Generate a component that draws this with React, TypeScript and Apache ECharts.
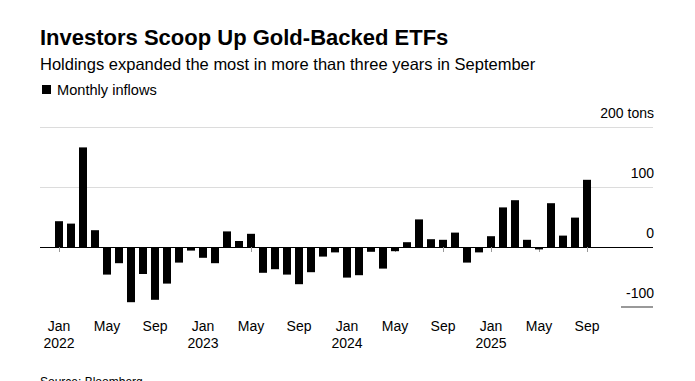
import React, { useEffect, useRef } from "react";
import * as echarts from "echarts";

const months: string[] = [
  "Jan 2022", "Feb 2022", "Mar 2022", "Apr 2022", "May 2022", "Jun 2022",
  "Jul 2022", "Aug 2022", "Sep 2022", "Oct 2022", "Nov 2022", "Dec 2022",
  "Jan 2023", "Feb 2023", "Mar 2023", "Apr 2023", "May 2023", "Jun 2023",
  "Jul 2023", "Aug 2023", "Sep 2023", "Oct 2023", "Nov 2023", "Dec 2023",
  "Jan 2024", "Feb 2024", "Mar 2024", "Apr 2024", "May 2024", "Jun 2024",
  "Jul 2024", "Aug 2024", "Sep 2024", "Oct 2024", "Nov 2024", "Dec 2024",
  "Jan 2025", "Feb 2025", "Mar 2025", "Apr 2025", "May 2025", "Jun 2025",
  "Jul 2025", "Aug 2025", "Sep 2025",
];

const inflows: number[] = [
  43, 39, 166, 28, -46, -27, -92, -45, -88, -61, -26, -6,
  -18, -27, 26, 10, 22, -43, -37, -46, -62, -42, -16, -9,
  -51, -47, -8, -36, -7, 8, 46, 13, 12, 24, -26, -9,
  18, 66, 78, 12, -4, 73, 19, 49, 112,
];

const yTicks = { min: -100, max: 200, interval: 100 };
const unitLabel = "tons";

const FONT = "'Liberation Sans', Arial, Helvetica, sans-serif";

export default function App() {
  const ref = useRef<HTMLDivElement>(null);

  useEffect(() => {
    if (!ref.current) return;
    const chart = echarts.init(ref.current, undefined, { renderer: "svg" });
    const showIdx = (i: number) => i % 4 === 0;
    chart.setOption({
      animation: false,
      backgroundColor: "#fff",
      textStyle: { fontFamily: FONT },
      grid: [
        { left: 40, right: 42, top: 127, bottom: 74 },
        { left: 53, right: 102, top: 127, bottom: 74 },
      ],
      xAxis: [
        { type: "value", gridIndex: 0, show: false, min: 0, max: 1 },
        {
          type: "category",
          gridIndex: 1,
          data: months,
          axisLine: { show: false },
          axisTick: {
            show: true,
            interval: (i: number) => showIdx(i),
            alignWithLabel: true,
            length: 5,
            lineStyle: { color: "#999", width: 1 },
          },
          axisLabel: {
            interval: (i: number) => showIdx(i),
            formatter: (v: string) => {
              const [m, y] = v.split(" ");
              return m === "Jan" ? `${m}\n${y}` : m;
            },
            fontFamily: FONT,
            fontSize: 14,
            lineHeight: 17,
            color: "#000",
            margin: 10,
          },
        },
      ],
      yAxis: [
        {
          type: "value",
          gridIndex: 0,
          position: "right",
          min: yTicks.min,
          max: yTicks.max,
          interval: yTicks.interval,
          axisLine: { show: false },
          axisTick: { show: false },
          splitLine: {
            show: true,
            lineStyle: {
              color: ["rgba(0,0,0,0)", "#000", "#dcdcdc", "#dcdcdc"],
              width: 1,
            },
          },
          axisLabel: {
            inside: true,
            margin: -1,
            align: "right",
            verticalAlign: "bottom",
            padding: [0, 0, 7, 0],
            fontFamily: FONT,
            fontSize: 14,
            lineHeight: 14,
            color: "#000",
            formatter: (v: number) => (v === yTicks.max ? `${v} ${unitLabel}` : `${v}`),
          },
        },
        {
          type: "value",
          gridIndex: 1,
          min: yTicks.min,
          max: yTicks.max,
          interval: yTicks.interval,
          show: false,
          splitLine: { show: false },
        },
      ],
      series: [
        {
          type: "bar",
          name: "Monthly inflows",
          xAxisIndex: 1,
          yAxisIndex: 1,
          data: inflows,
          barWidth: 8,
          itemStyle: { color: "#000" },
        },
      ],
      graphic: [
        {
          type: "text",
          left: 40,
          top: 26,
          style: {
            text: "Investors Scoop Up Gold-Backed ETFs",
            font: `bold 22px ${FONT}`,
            fill: "#000",
          },
        },
        {
          type: "text",
          left: 40,
          top: 55,
          style: {
            text: "Holdings expanded the most in more than three years in September",
            font: `16.5px ${FONT}`,
            fill: "#000",
          },
        },
        {
          type: "rect",
          shape: { x: 42, y: 85, width: 9, height: 9 },
          style: { fill: "#000" },
        },
        {
          type: "text",
          left: 57,
          top: 82,
          style: { text: "Monthly inflows", font: `14.6px ${FONT}`, fill: "#000" },
        },
        {
          type: "line",
          shape: { x1: 621, y1: 307, x2: 653, y2: 307 },
          style: { stroke: "#999", lineWidth: 2 },
        },
        {
          type: "text",
          left: 40,
          top: 376,
          style: { text: "Source: Bloomberg", font: `12px ${FONT}`, fill: "#000" },
        },
      ],
    });
    return () => chart.dispose();
  }, []);

  return (
    <div
      ref={ref}
      style={{ width: 695, height: 381, position: "absolute", left: 0, top: 0 }}
    />
  );
}
